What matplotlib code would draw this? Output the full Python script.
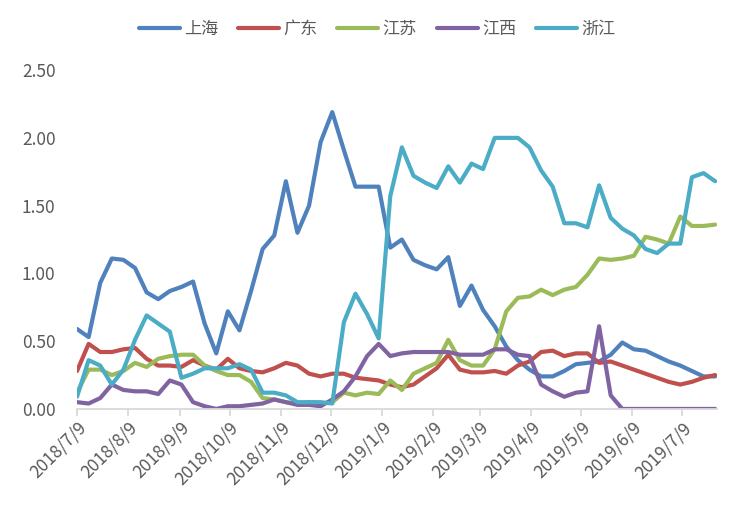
import matplotlib

matplotlib.use("Agg")
import matplotlib.dates as mdates
import matplotlib.pyplot as plt
import pandas as pd

plt.rcParams["font.family"] = ["Noto Sans CJK SC", "DejaVu Sans"]

START = "2018-07-09"
N_WEEKS = 56

shanghai = [
    0.59, 0.53, 0.93, 1.11, 1.10, 1.04, 0.86, 0.81, 0.87, 0.90,
    0.94, 0.63, 0.41, 0.72, 0.58, 0.87, 1.18, 1.28, 1.68, 1.30,
    1.50, 1.97, 2.19, 1.91, 1.64, 1.64, 1.64, 1.19, 1.25, 1.10,
    1.06, 1.03, 1.12, 0.76, 0.91, 0.73, 0.61, 0.46, 0.36, 0.29,
    0.24, 0.24, 0.28, 0.33, 0.34, 0.35, 0.40, 0.49, 0.44, 0.43,
    0.39, 0.35, 0.32, 0.28, 0.24, 0.24,
]
guangdong = [
    0.28, 0.48, 0.42, 0.42, 0.44, 0.45, 0.37, 0.32, 0.32, 0.31,
    0.36, 0.32, 0.29, 0.37, 0.30, 0.28, 0.27, 0.30, 0.34, 0.32,
    0.26, 0.24, 0.26, 0.26, 0.23, 0.22, 0.21, 0.18, 0.16, 0.18,
    0.24, 0.30, 0.40, 0.29, 0.27, 0.27, 0.28, 0.26, 0.32, 0.35,
    0.42, 0.43, 0.39, 0.41, 0.41, 0.34, 0.35, 0.32, 0.29, 0.26,
    0.23, 0.20, 0.18, 0.20, 0.23, 0.25,
]
jiangsu = [
    0.12, 0.29, 0.29, 0.25, 0.28, 0.34, 0.31, 0.37, 0.39, 0.40,
    0.40, 0.32, 0.28, 0.25, 0.25, 0.20, 0.08, 0.07, 0.05, 0.04,
    0.05, 0.04, 0.05, 0.12, 0.10, 0.12, 0.11, 0.21, 0.14, 0.26,
    0.30, 0.34, 0.51, 0.36, 0.32, 0.32, 0.44, 0.72, 0.82, 0.83,
    0.88, 0.84, 0.88, 0.90, 0.99, 1.11, 1.10, 1.11, 1.13, 1.27,
    1.25, 1.22, 1.42, 1.35, 1.35, 1.36,
]
jiangxi = [
    0.05, 0.04, 0.08, 0.18, 0.14, 0.13, 0.13, 0.11, 0.21, 0.18,
    0.05, 0.02, 0.00, 0.02, 0.02, 0.03, 0.04, 0.07, 0.05, 0.03,
    0.03, 0.02, 0.07, 0.13, 0.24, 0.39, 0.48, 0.39, 0.41, 0.42,
    0.42, 0.42, 0.42, 0.40, 0.40, 0.40, 0.44, 0.44, 0.40, 0.39,
    0.18, 0.13, 0.09, 0.12, 0.13, 0.61, 0.10, 0.00, 0.00, 0.00,
    0.00, 0.00, 0.00, 0.00, 0.00, 0.00,
]
zhejiang = [
    0.09, 0.36, 0.32, 0.18, 0.29, 0.51, 0.69, 0.63, 0.57, 0.23,
    0.26, 0.30, 0.30, 0.30, 0.33, 0.29, 0.12, 0.12, 0.10, 0.05,
    0.05, 0.05, 0.04, 0.64, 0.85, 0.70, 0.52, 1.57, 1.93, 1.72,
    1.67, 1.63, 1.79, 1.67, 1.81, 1.77, 2.00, 2.00, 2.00, 1.93,
    1.76, 1.64, 1.37, 1.37, 1.34, 1.65, 1.41, 1.33, 1.28, 1.18,
    1.15, 1.22, 1.22, 1.71, 1.74, 1.68,
]

SERIES = [
    ("上海", shanghai, "#4F81BD"),
    ("广东", guangdong, "#C0504D"),
    ("江苏", jiangsu, "#9BBB59"),
    ("江西", jiangxi, "#8064A2"),
    ("浙江", zhejiang, "#4BACC6"),
]
Y_TICKS = [0.0, 0.5, 1.0, 1.5, 2.0, 2.5]
TEXT_GRAY = "#595959"


def date_label(x, _pos) -> str:
    d = mdates.num2date(x)
    return f"{d.year}/{d.month}/{d.day}"


def main() -> None:
    dates = pd.date_range(START, periods=N_WEEKS, freq="7D")

    fig = plt.figure(figsize=(7.5, 5.08), dpi=100)
    ax = fig.add_axes([0.1027, 0.195, 0.853, 0.667])

    for label, values, color in SERIES:
        ax.plot(dates, values, color=color, lw=3, label=label,
                solid_joinstyle="round", solid_capstyle="round")

    ax.set_ylim(0, 2.5)
    ax.set_yticks(Y_TICKS)
    ax.set_yticklabels([f"{v:.2f}" for v in Y_TICKS])
    ax.set_xlim(dates[0], pd.Timestamp("2019-07-30"))
    ax.xaxis.set_major_locator(mdates.MonthLocator(bymonthday=9))
    ax.xaxis.set_major_formatter(matplotlib.ticker.FuncFormatter(date_label))

    for side in ("top", "right", "left"):
        ax.spines[side].set_visible(False)
    ax.spines["bottom"].set_color("#D9D9D9")
    ax.spines["bottom"].set_linewidth(1.3)

    ax.tick_params(axis="y", length=0, labelsize=12.5, labelcolor=TEXT_GRAY, pad=15.5)
    ax.tick_params(axis="x", direction="out", length=5, width=1.3, color="#D9D9D9",
                   labelsize=12.5, labelcolor=TEXT_GRAY, pad=2)
    for lbl in ax.get_xticklabels():
        lbl.set_rotation(45)
        lbl.set_ha("right")
        lbl.set_rotation_mode("anchor")

    fig.legend(loc="center", bbox_to_anchor=(0.503, 0.943), ncol=5, frameon=False,
               fontsize=12.3, handlelength=2.4, handletextpad=0.25, columnspacing=1.15,
               labelcolor=TEXT_GRAY)

    fig.savefig("out.png", dpi=100)
    plt.close(fig)


if __name__ == "__main__":
    main()
